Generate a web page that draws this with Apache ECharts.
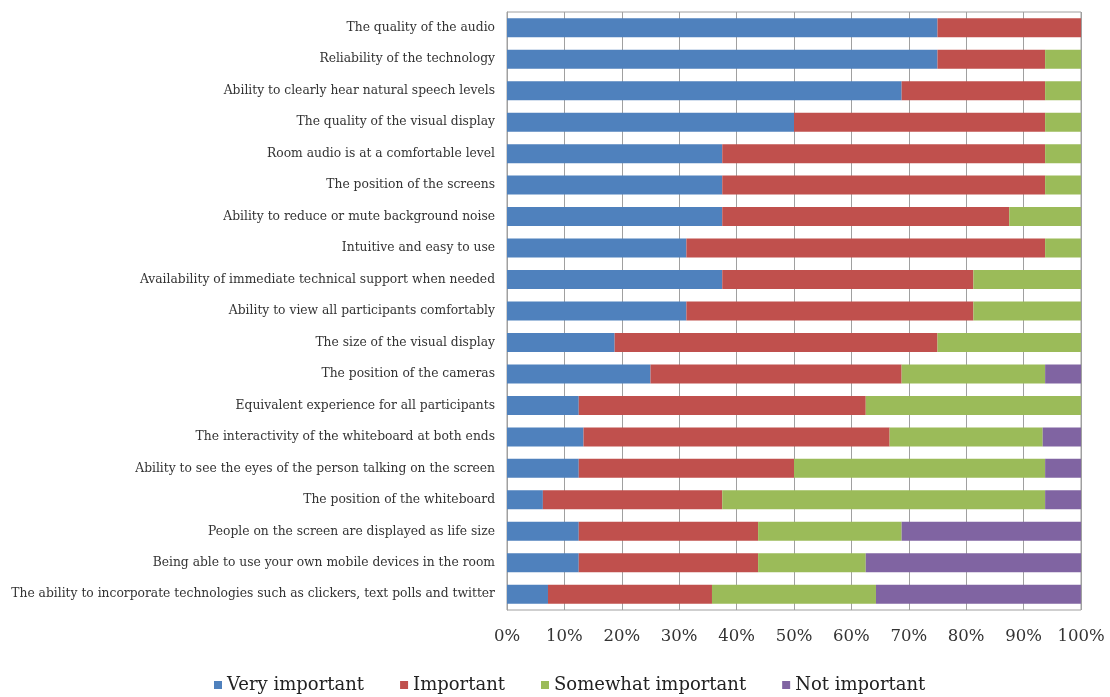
<!DOCTYPE html>
<html>
<head>
<meta charset="utf-8">
<script src="https://cdn.jsdelivr.net/npm/echarts@6/dist/echarts.min.js"></script>
<style>html,body{margin:0;padding:0;background:#fff;}#c{width:1110px;height:697px;}</style>
</head>
<body>
<div id="c"></div>
<script>
const categories = [
  "The quality of the audio",
  "Reliability of the technology",
  "Ability to clearly hear natural speech levels",
  "The quality of the visual display",
  "Room audio is at a comfortable level",
  "The position of the screens",
  "Ability to reduce or mute background noise",
  "Intuitive and easy to use",
  "Availability of immediate technical support when needed",
  "Ability to view all participants comfortably",
  "The size of the visual display",
  "The position of the cameras",
  "Equivalent experience for all participants",
  "The interactivity of the whiteboard at both ends",
  "Ability to see the eyes of the person talking on the screen",
  "The position of the whiteboard",
  "People on the screen are displayed as life size",
  "Being able to use your own mobile devices in the room",
  "The ability to incorporate technologies such as clickers, text polls and twitter"
];
const veryImportant = [75, 75, 68.75, 50, 37.5, 37.5, 37.5, 31.25, 37.5, 31.25, 18.75, 25, 12.5, 13.33, 12.5, 6.25, 12.5, 12.5, 7.14];
const important     = [25, 18.75, 25, 43.75, 56.25, 56.25, 50, 62.5, 43.75, 50, 56.25, 43.75, 50, 53.33, 37.5, 31.25, 31.25, 31.25, 28.57];
const somewhatImportant = [0, 6.25, 6.25, 6.25, 6.25, 6.25, 12.5, 6.25, 18.75, 18.75, 25, 25, 37.5, 26.67, 43.75, 56.25, 25, 18.75, 28.57];
const notImportant  = [0, 0, 0, 0, 0, 0, 0, 0, 0, 0, 0, 6.25, 0, 6.67, 6.25, 6.25, 31.25, 37.5, 35.71];
const seriesNames = ["Very important", "Important", "Somewhat important", "Not important"];
const xTicks = [0, 10, 20, 30, 40, 50, 60, 70, 80, 90, 100];

const colors = ["#4F81BD", "#C0504D", "#9BBB59", "#8064A2"];
const seriesData = [veryImportant, important, somewhatImportant, notImportant];

const chart = echarts.init(document.getElementById('c'), null, {renderer: 'canvas'});
chart.setOption({
  animation: false,
  backgroundColor: '#ffffff',
  color: colors,
  grid: {left: 507, right: 29, top: 12, bottom: 87, show: true, borderColor: '#a0a0a0', borderWidth: 1, containLabel: false},
  legend: {
    data: seriesNames,
    top: 671,
    left: 209,
    itemWidth: 8, itemHeight: 8, itemGap: 36,
    icon: 'rect',
    textStyle: {fontFamily: 'DejaVu Serif', fontSize: 18, color: '#222'}
  },
  xAxis: {
    type: 'value', min: xTicks[0], max: xTicks[xTicks.length - 1], interval: 10,
    axisLine: {show: false}, axisTick: {show: false},
    splitLine: {show: true, lineStyle: {color: '#a0a0a0', width: 1}},
    axisLabel: {formatter: v => v + '%', fontFamily: 'DejaVu Serif', fontSize: 16.5, color: '#333', margin: 18}
  },
  yAxis: {
    type: 'category', data: categories, inverse: true,
    axisLine: {show: true, lineStyle: {color: '#a0a0a0'}}, axisTick: {show: false},
    axisLabel: {fontFamily: 'DejaVu Serif', fontSize: 12.3, color: '#333', margin: 12}
  },
  series: seriesNames.map((n, i) => ({
    name: n, type: 'bar', stack: 'total', barWidth: 19,
    data: seriesData[i],
    itemStyle: {color: colors[i]}
  }))
});
</script>
</body>
</html>
